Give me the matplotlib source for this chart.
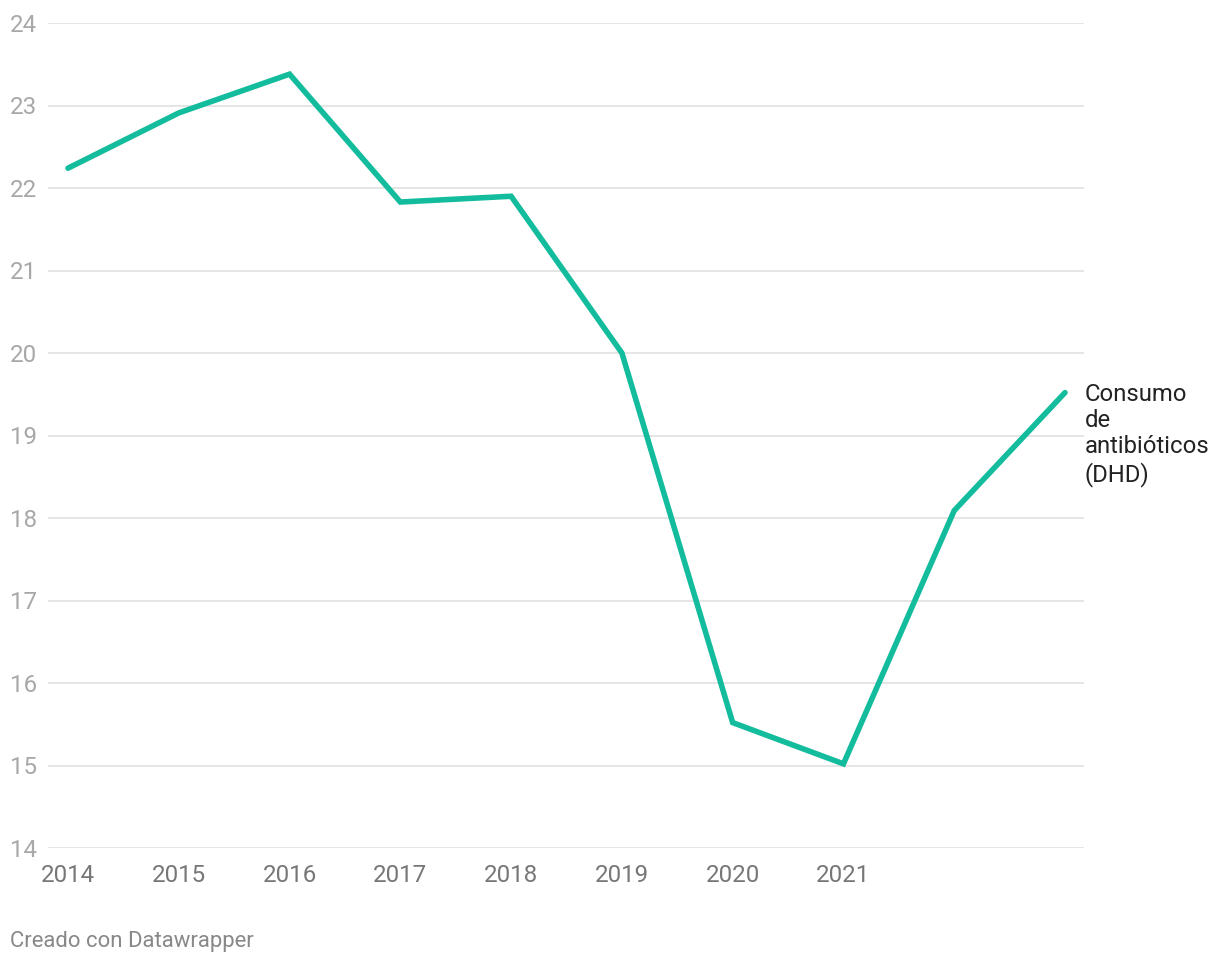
import matplotlib.pyplot as plt
from matplotlib.transforms import blended_transform_factory, offset_copy

plt.rcParams['font.family'] = ['Roboto', 'DejaVu Sans']

years = [2014, 2015, 2016, 2017, 2018, 2019, 2020, 2021, 2022, 2023]
consumo = [22.24, 22.91, 23.38, 21.83, 21.90, 20.00, 15.52, 15.02, 18.09, 19.52]
x_ticks = [2014, 2015, 2016, 2017, 2018, 2019, 2020, 2021]
y_ticks = [14, 15, 16, 17, 18, 19, 20, 21, 22, 23, 24]

W, H = 1220, 964
fig = plt.figure(figsize=(W / 100, H / 100), dpi=100)
ax = fig.add_axes([48 / W, 1 - 848 / H, (1084 - 48) / W, (848 - 23) / H])

ax.plot(years, consumo, color='#12bc9c', linewidth=4.0,
        solid_capstyle='round', solid_joinstyle='miter', zorder=3)

ax.set_xlim(2014 - 20 / 110.78, 2023 + 19 / 110.78)
ax.set_ylim(14, 24)

# y labels sit at the left edge of the figure
ylab_tr = offset_copy(blended_transform_factory(fig.transFigure, ax.transData),
                      fig=fig, y=-1.5, units='points')
for y in y_ticks:
    ax.axhline(y, color='#e3e3e3', linewidth=1.3, zorder=1)
    ax.text(10 / W, y, str(y), transform=ylab_tr,
            ha='left', va='center', fontsize=17.4, color='#a8a8a8')

ax.set_yticks([])
ax.set_xticks(x_ticks)
ax.set_xticklabels([str(x) for x in x_ticks], fontsize=17.4, color='#777777')
ax.tick_params(axis='x', length=0, pad=11.5)
for s in ax.spines.values():
    s.set_visible(False)

ax.annotate('Consumo\nde\nantibióticos\n(DHD)', xy=(years[-1], consumo[-1]),
            xytext=(1085, H - 383), textcoords='figure pixels',
            ha='left', va='top', fontsize=17.2, color='#222222',
            linespacing=1.18, annotation_clip=False)

fig.text(10 / W, 1 - 942 / H, 'Creado con Datawrapper', ha='left', va='center',
         fontsize=15.9, color='#888888')

fig.savefig('out.png', dpi=100)
